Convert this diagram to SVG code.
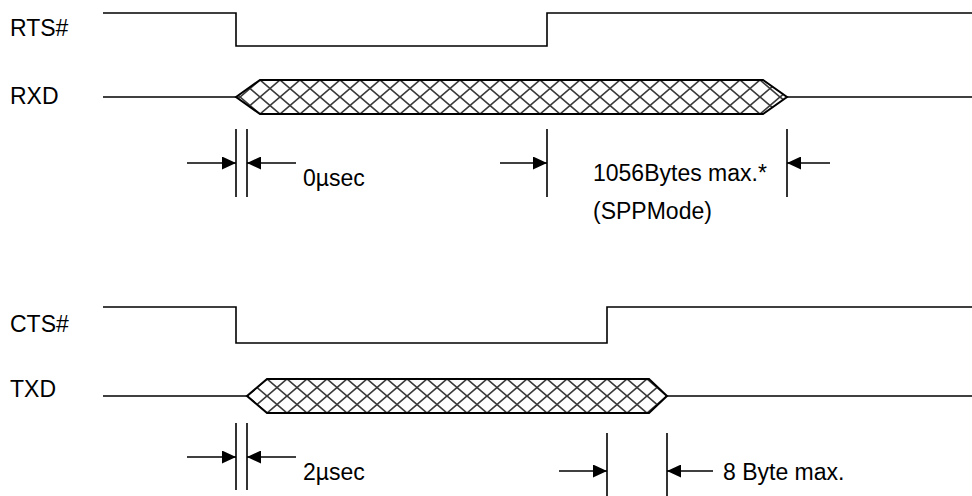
<svg xmlns="http://www.w3.org/2000/svg" width="972" height="496" viewBox="0 0 972 496">
<style>
.sig{fill:none;stroke:#000;stroke-width:1.6}
.bus{stroke:#000;stroke-width:2}
.dim{fill:none;stroke:#000;stroke-width:1.6}
.arr{fill:none;stroke:#000;stroke-width:1.6;marker-end:url(#ah)}
.hl{stroke:#3a3a3a;stroke-width:1.7}
text{font-family:"Liberation Sans",Arial,sans-serif;font-size:23px;fill:#000}
</style>
<defs>
<marker id="ah" markerWidth="14" markerHeight="13" refX="14" refY="6.5" orient="auto" markerUnits="userSpaceOnUse">
<path d="M0,0 L14,6.5 L0,13 Z" fill="#000"/>
</marker>
<pattern id="hatch1" patternUnits="userSpaceOnUse" x="0" y="80" width="20" height="17">
<rect width="20" height="17" fill="#fff"/>
<path class="hl" d="M0,0 L20,17 M0,17 L20,0"/>
</pattern>
<pattern id="hatch2" patternUnits="userSpaceOnUse" x="7" y="379" width="20" height="17">
<rect width="20" height="17" fill="#fff"/>
<path class="hl" d="M0,0 L20,17 M0,17 L20,0"/>
</pattern>
</defs>
<rect width="972" height="496" fill="#fff"/>

<g id="rts">
<text x="10" y="36">RTS#</text>
<polyline class="sig" points="103,13 236,13 236,46 547,46 547,13 972,13"/>
</g>
<g id="rxd">
<text x="10" y="104">RXD</text>
<line class="sig" x1="103" y1="97" x2="236" y2="97"/>
<polygon class="bus" fill="url(#hatch1)" points="236,97 260,80 763,80 787,97 763,114 260,114"/>
<line class="sig" x1="787" y1="97" x2="972" y2="97"/>
</g>
<g id="cts">
<text x="10" y="332">CTS#</text>
<polyline class="sig" points="103,307 236,307 236,343 607,343 607,307 972,307"/>
</g>
<g id="txd">
<text x="10" y="397">TXD</text>
<line class="sig" x1="103" y1="396" x2="247" y2="396"/>
<polygon class="bus" fill="url(#hatch2)" points="247,396 267,379 649,379 667,396 649,413 267,413"/>
<line class="sig" x1="667" y1="396" x2="972" y2="396"/>
</g>

<g id="connectors">
<line class="dim" x1="236" y1="129" x2="236" y2="197"/>
<line class="dim" x1="247" y1="129" x2="247" y2="197"/>
<line class="arr" x1="187" y1="163" x2="236" y2="163"/>
<line class="arr" x1="296" y1="163" x2="247" y2="163"/>
<line class="dim" x1="547" y1="129" x2="547" y2="197"/>
<line class="dim" x1="787" y1="129" x2="787" y2="197"/>
<line class="arr" x1="500" y1="163" x2="547" y2="163"/>
<line class="arr" x1="830" y1="163" x2="787" y2="163"/>

<line class="dim" x1="236" y1="423" x2="236" y2="490"/>
<line class="dim" x1="247" y1="423" x2="247" y2="490"/>
<line class="arr" x1="187" y1="457" x2="236" y2="457"/>
<line class="arr" x1="296" y1="457" x2="247" y2="457"/>
<line class="dim" x1="607" y1="433" x2="607" y2="496"/>
<line class="dim" x1="667" y1="433" x2="667" y2="496"/>
<line class="arr" x1="559" y1="471" x2="607" y2="471"/>
<line class="arr" x1="713" y1="471" x2="667" y2="471"/>
</g>

<g id="labels">
<text x="303" y="186">0µsec</text>
<text x="593" y="181">1056Bytes max.*</text>
<text x="593" y="219">(SPPMode)</text>
<text x="303" y="480">2µsec</text>
<text x="723" y="480">8 Byte max.</text>
</g>
</svg>
